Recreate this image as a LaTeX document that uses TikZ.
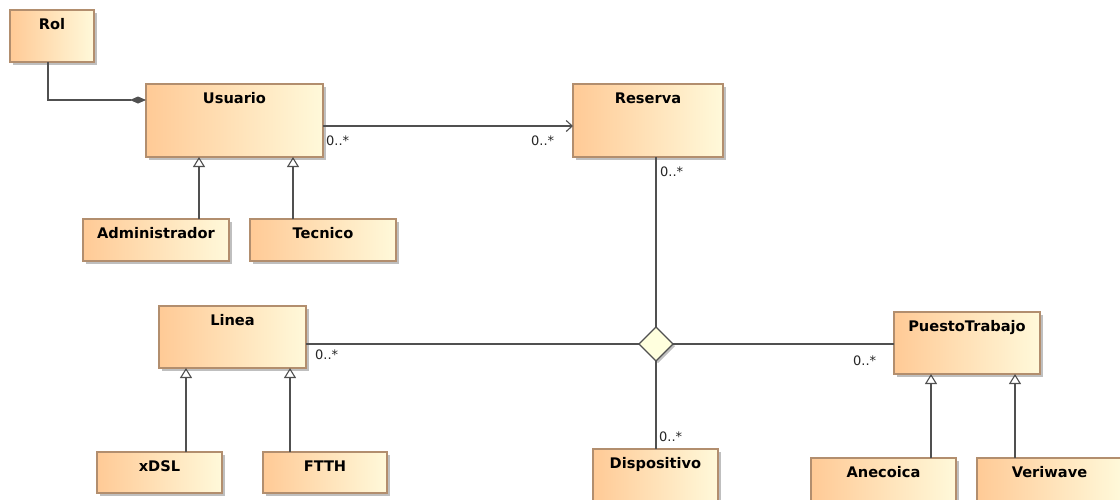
\documentclass[tikz,border=0pt]{standalone}
\usepackage{fontspec}
\newfontfamily\umlfont{DejaVu Sans}
\usetikzlibrary{arrows.meta,shapes.geometric,shadows,calc}

\definecolor{boxleft}{RGB}{255,202,150}
\definecolor{boxright}{RGB}{255,249,218}
\definecolor{boxline}{RGB}{178,142,110}
\definecolor{wire}{RGB}{80,80,80}
\definecolor{assocfill}{RGB}{255,255,222}

\tikzset{
  classbox/.style={draw=boxline, line width=1.1pt, rectangle, inner sep=0pt, outer sep=0pt,
    left color=boxleft, right color=boxright,
    drop shadow={shadow xshift=3pt, shadow yshift=-3pt, fill=black!45, opacity=0.55}},
  classtitle/.style={anchor=base, inner sep=0pt, font=\umlfont\bfseries\fontsize{14.6}{16}\selectfont},
  mult/.style={anchor=base west, inner sep=0pt, text=black!85, font=\umlfont\fontsize{13}{15}\selectfont},
  wireline/.style={draw=wire, line width=1.1pt},
  gen/.style={wireline, -{Triangle[open, length=10pt, width=12pt, line width=1.1pt]}},
  nav/.style={wireline, -{Straight Barb[length=6pt, width=11pt, line width=1.1pt]}},
  comp/.style={wireline, -{Diamond[length=16pt, width=7pt, fill=wire]}},
  ternary/.style={diamond, draw=wire, line width=1.1pt, fill=assocfill, inner sep=0pt, outer sep=0pt,
    minimum width=34pt, minimum height=34pt,
    drop shadow={shadow xshift=2pt, shadow yshift=-2pt, fill=black!45, opacity=0.55}}
}

% class box: name, left, top, width, height, title
\newcommand{\classnode}[6]{%
  \node[classbox, minimum width=#4pt, minimum height=#5pt, anchor=north west] (#1) at (#2,#3) {};
  \node[classtitle] (#1-title) at ($(#1.north)+(0,19.5)$) {#6};
}

\begin{document}
\begin{tikzpicture}[x=1pt, y=-1pt]
  \clip (0,0) rectangle (1120,499);
  \fill[white] (0,0) rectangle (1120,499);

  % classes
  \classnode{rol}{10}{10}{84}{52}{Rol}
  \classnode{usuario}{146}{84}{177}{73}{Usuario}
  \classnode{reserva}{573}{84}{150}{73}{Reserva}
  \classnode{admin}{83}{219}{146}{42}{Administrador}
  \classnode{tecnico}{250}{219}{146}{42}{Tecnico}
  \classnode{linea}{159}{306}{147}{62}{Linea}
  \classnode{puesto}{894}{312}{146}{62}{PuestoTrabajo}
  \classnode{xdsl}{97}{452}{125}{41}{xDSL}
  \classnode{ftth}{263}{452}{124}{41}{FTTH}
  \classnode{dispositivo}{593}{449}{125}{70}{Dispositivo}
  \classnode{anecoica}{811}{458}{145}{70}{Anecoica}
  \classnode{veriwave}{977}{458}{145}{70}{Veriwave}

  % n-ary association
  \node[ternary] (assoc) at (656,344) {};

  % x positions of the generalization lines
  \coordinate (g1) at (199,0);
  \coordinate (g2) at (293,0);
  \coordinate (g3) at (186,0);
  \coordinate (g4) at (290,0);
  \coordinate (g5) at (931,0);
  \coordinate (g6) at (1015,0);

  % composition Rol -> Usuario
  \draw[comp] ([xshift=-4pt]rol.south) |- ($(usuario.north west)+(0,16)$);

  % Usuario -> Reserva
  \draw[nav] ($(usuario.north east)+(0,42)$) -- ($(reserva.north west)+(0,42)$);

  % generalizations
  \draw[gen] (admin.north -| g1) -- (usuario.south -| g1);
  \draw[gen] (tecnico.north -| g2) -- (usuario.south -| g2);
  \draw[gen] (xdsl.north -| g3) -- (linea.south -| g3);
  \draw[gen] (ftth.north -| g4) -- (linea.south -| g4);
  \draw[gen] (anecoica.north -| g5) -- (puesto.south -| g5);
  \draw[gen] (veriwave.north -| g6) -- (puesto.south -| g6);

  % association legs
  \draw[wireline] (assoc.north) -- (assoc.north |- reserva.south);
  \draw[wireline] (assoc.west) -- (assoc.west -| linea.east);
  \draw[wireline] (assoc.east) -- (assoc.east -| puesto.west);
  \draw[wireline] (assoc.south) -- (assoc.south |- dispositivo.north);

  % multiplicities
  \node[mult] (m1) at (326,145) {0..*};
  \node[mult] (m2) at (531,145) {0..*};
  \node[mult] (m3) at (660,176) {0..*};
  \node[mult] (m4) at (315,359) {0..*};
  \node[mult] (m5) at (853,365) {0..*};
  \node[mult] (m6) at (659,441) {0..*};
\end{tikzpicture}
\end{document}
